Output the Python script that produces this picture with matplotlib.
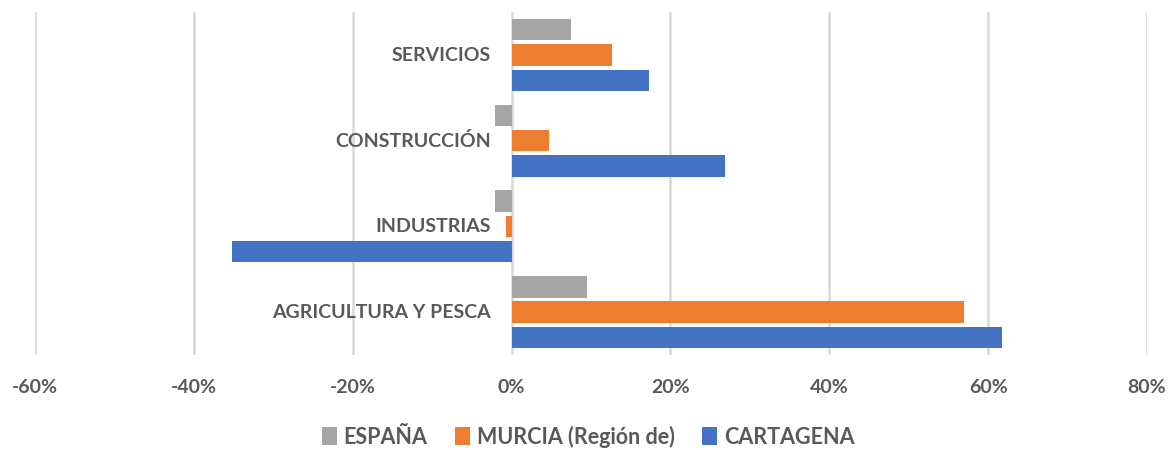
import numpy as np
import matplotlib.pyplot as plt
from matplotlib.ticker import FuncFormatter

sectores = ['SERVICIOS', 'CONSTRUCCIÓN', 'INDUSTRIAS', 'AGRICULTURA Y PESCA']
espana = [7.5, -2.1, -2.1, 9.5]
murcia = [12.7, 4.7, -0.7, 57.0]
cartagena = [17.3, 26.9, -35.2, 61.8]
ticks_x = [-60, -40, -20, 0, 20, 40, 60, 80]

plt.rcParams['font.family'] = ['Lato', 'DejaVu Sans']
gris_txt = '#595959'

fig = plt.figure(figsize=(11.76, 4.5), dpi=100)
ax = fig.add_axes([0.0298, 0.211, 0.9455, 0.762])

y = np.arange(len(sectores))
paso = 0.295
alto = 0.25
ax.barh(y - paso, espana, height=alto, color='#A5A5A5', label='ESPAÑA')
ax.barh(y, murcia, height=alto, color='#ED7D31', label='MURCIA (Región de)')
ax.barh(y + paso, cartagena, height=alto, color='#4472C4', label='CARTAGENA')

ax.set_xlim(-60, 80)
ax.set_ylim(3.5, -0.5)
ax.set_xticks(ticks_x)
ax.xaxis.set_major_formatter(FuncFormatter(lambda v, p: f'{v:.0f}%'))
ax.grid(axis='x', color='#D9D9D9', linewidth=1.8)
ax.set_axisbelow(True)
for s in ax.spines.values():
    s.set_visible(False)
ax.tick_params(axis='x', length=0, pad=17, labelsize=14, labelcolor=gris_txt)
for lab in ax.get_xticklabels():
    lab.set_fontweight('bold')

ax.set_yticks([])
for i, nombre in enumerate(sectores):
    ax.annotate(nombre, xy=(0, i), xytext=(-15, 0), textcoords='offset points',
                ha='right', va='center', fontsize=14, fontweight='bold', color=gris_txt)

leg = fig.legend(*ax.get_legend_handles_labels(), loc='center', bbox_to_anchor=(0.5, 0.03),
                 ncol=3, frameon=False, borderpad=0.2,
                 handlelength=0.7, handleheight=0.9, handletextpad=0.3, columnspacing=1.3,
                 prop={'size': 15.5, 'weight': 'bold'})
for t in leg.get_texts():
    t.set_color(gris_txt)

fig.savefig('out.png', dpi=100)
